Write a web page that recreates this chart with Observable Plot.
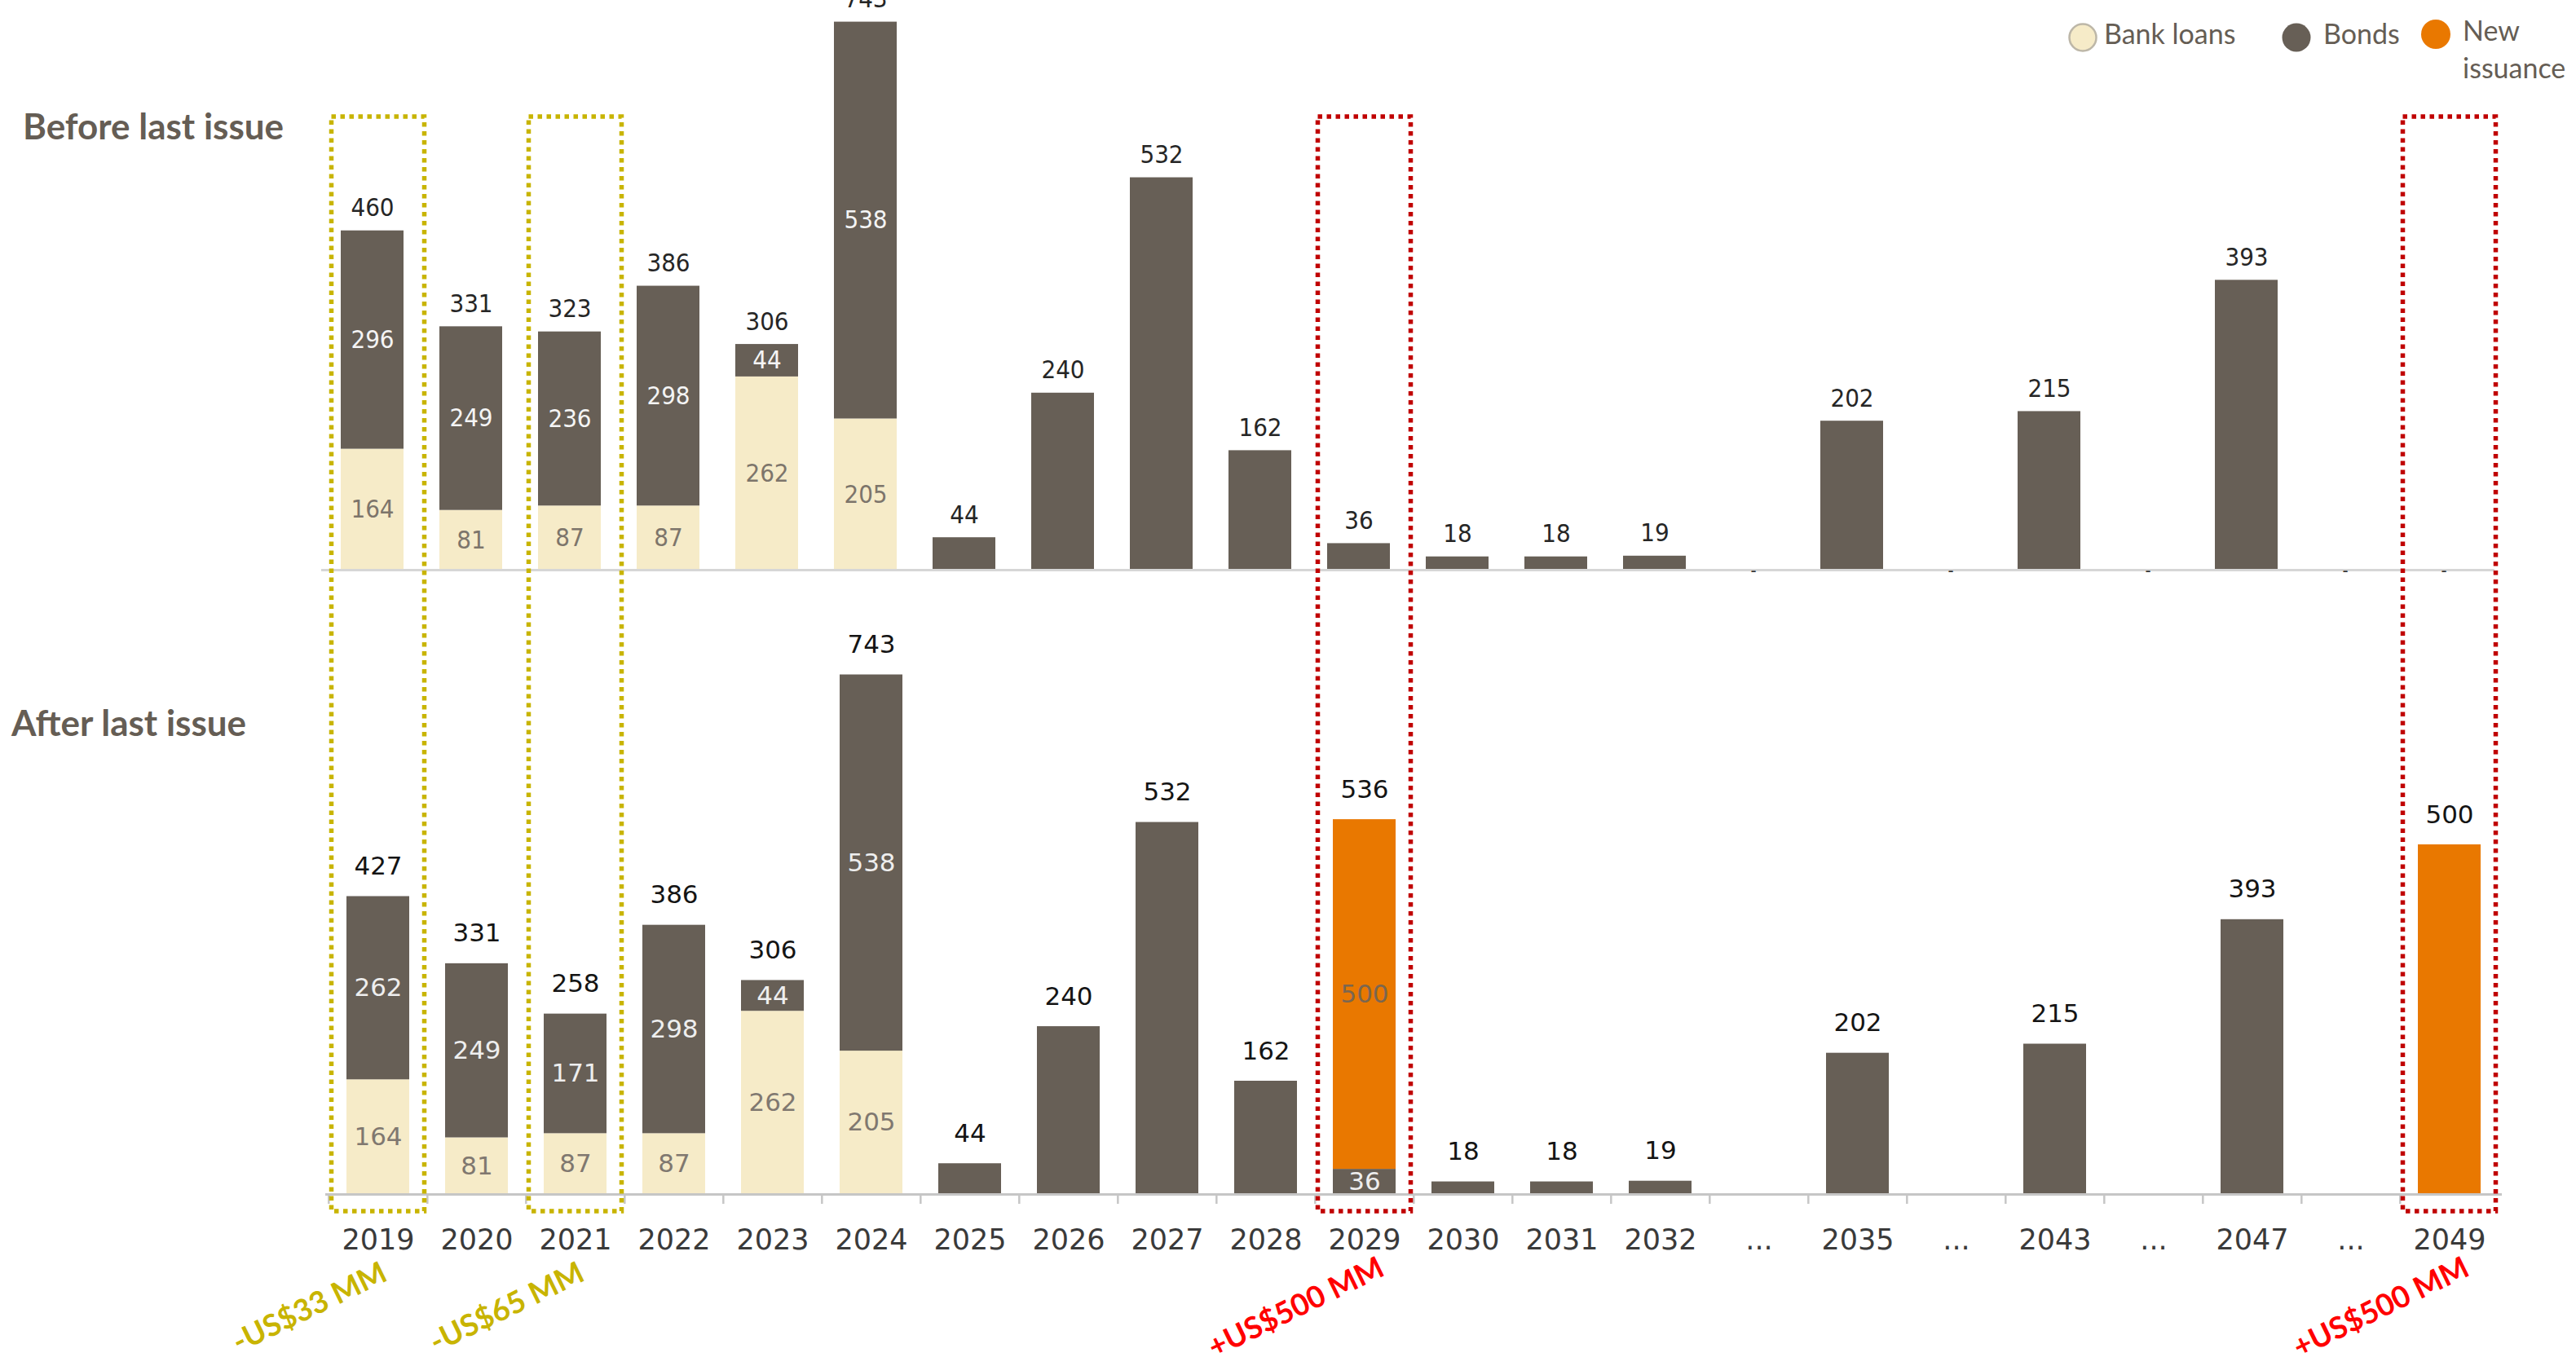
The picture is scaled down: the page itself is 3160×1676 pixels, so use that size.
<!DOCTYPE html>
<html>
<head>
<meta charset="utf-8">
<script src="https://cdn.jsdelivr.net/npm/d3@7"></script>
<script src="https://cdn.jsdelivr.net/npm/@observablehq/plot@0.6"></script>
<style>
  html, body { margin: 0; padding: 0; background: #fff; }
  #wrap { position: relative; width: 3160px; height: 1676px; overflow: hidden; background: #fff; }
  #wrap > svg, #wrap > .layer { position: absolute; left: 0; top: 0; }
</style>
</head>
<body>
<div id="wrap"></div>
<script>
// ---------- data ----------
const categories = ["2019","2020","2021","2022","2023","2024","2025","2026","2027","2028","2029","2030","2031","2032","gap1","2035","gap2","2043","gap3","2047","gap4","2049"];
const tickLabels = ["2019","2020","2021","2022","2023","2024","2025","2026","2027","2028","2029","2030","2031","2032","...","2035","...","2043","...","2047","...","2049"];
const series = ["Bank loans", "Bonds", "New issuance"];
const seriesColors = ["#f6ebc8", "#675f56", "#e97800"];

const bankBefore  = [164, 81, 87, 87, 262, 205, 0, 0, 0, 0, 0, 0, 0, 0, 0, 0, 0, 0, 0, 0, 0, 0];
const bondsBefore = [296, 249, 236, 298, 44, 538, 44, 240, 532, 162, 36, 18, 18, 19, 0, 202, 0, 215, 0, 393, 0, 0];
const newBefore   = [0, 0, 0, 0, 0, 0, 0, 0, 0, 0, 0, 0, 0, 0, 0, 0, 0, 0, 0, 0, 0, 0];
const totalBefore = [460, 331, 323, 386, 306, 743, 44, 240, 532, 162, 36, 18, 18, 19, 0, 202, 0, 215, 0, 393, 0, 0];

const bankAfter  = [164, 81, 87, 87, 262, 205, 0, 0, 0, 0, 0, 0, 0, 0, 0, 0, 0, 0, 0, 0, 0, 0];
const bondsAfter = [262, 249, 171, 298, 44, 538, 44, 240, 532, 162, 36, 18, 18, 19, 0, 202, 0, 215, 0, 393, 0, 0];
const newAfter   = [0, 0, 0, 0, 0, 0, 0, 0, 0, 0, 500, 0, 0, 0, 0, 0, 0, 0, 0, 0, 0, 500];
const totalAfter = [427, 331, 258, 386, 306, 743, 44, 240, 532, 162, 536, 18, 18, 19, 0, 202, 0, 215, 0, 393, 0, 500];

const highlightCats   = ["2019", "2021", "2029", "2049"];
const highlightChange = [-33, -65, 500, 500];

const panelTitles = ["Before last issue", "After last issue"];

// ---------- helpers ----------
function stackRows(bank, bonds, nw, total) {
  const segs = [], tops = [];
  categories.forEach((c, i) => {
    const vals = [bank[i], bonds[i], nw[i]];
    const n = vals.filter(v => v > 0).length;
    let base = 0;
    vals.forEach((v, k) => {
      segs.push({cat: c, k, series: series[k], value: v, y1: base, y2: base + v, mid: base + v / 2, multi: n > 1});
      base += v;
    });
    tops.push({cat: c, top: base, total: total[i]});
  });
  return {segs, tops};
}

const W = 3160, H = 1676;
const wrap = document.getElementById("wrap");

// ---------- top panel ----------
const before = stackRows(bankBefore, bondsBefore, newBefore, totalBefore);
const topFont = "'DejaVu Sans Condensed', 'Liberation Sans Narrow', 'DejaVu Sans', sans-serif";
const innerTop = ["#7d756b", "#f4f4f4", "#7a6650"];

const topMarks = [
  Plot.barY(before.segs.filter(d => d.value > 0), {x: "cat", y1: "y1", y2: "y2", fill: "series"}),
  Plot.ruleY([0], {stroke: "#d6d6d6", strokeWidth: 3})
];
[0, 1, 2].forEach(k => {
  topMarks.push(Plot.text(before.segs.filter(d => d.k === k && d.multi && d.value > 0), {
    x: "cat", y: "mid", text: d => String(d.value), fill: innerTop[k], fontSize: 31, fontFamily: topFont
  }));
});
topMarks.push(Plot.text(before.tops.filter(d => d.total > 0), {
  x: "cat", y: "top", text: d => String(d.total), lineAnchor: "bottom", dy: -18,
  fill: "#262626", fontSize: 31, fontFamily: topFont
}));
topMarks.push(Plot.text(before.tops.filter(d => d.total === 0), {
  x: "cat", y: 0, text: () => "-", fill: "#333", fontSize: 22, fontFamily: topFont
}));

const topPlot = Plot.plot({
  width: W, height: 740,
  marginLeft: 394, marginRight: 100, marginTop: 0, marginBottom: 41,
  x: {type: "band", domain: categories, paddingInner: 0.365, paddingOuter: 0.1825, axis: null},
  y: {domain: [0, 743], range: [699, 699 - 743 * 0.905], axis: null},
  color: {domain: series, range: seriesColors},
  style: {background: "white", maxWidth: "none", overflow: "visible", fontFamily: topFont, fontStretch: "condensed"},
  marks: topMarks
});
wrap.appendChild(topPlot);

// ---------- bottom panel ----------
const after = stackRows(bankAfter, bondsAfter, newAfter, totalAfter);
const botFont = "'DejaVu Sans', Verdana, sans-serif";
const innerBot = ["#807870", "#eeeeee", "#7a6650"];
const mLeft = 399, mRight = 91;
const step = (W - mLeft - mRight) / categories.length;

const highlights = highlightCats.map((c, i) => ({cat: c, change: highlightChange[i]}));
const fmtChange = v => (v < 0 ? "-US$" : "+US$") + Math.abs(v) + " MM";
const groups = [
  {filter: d => d.change < 0, color: "#c8b400", text: "#c8b400"},
  {filter: d => d.change > 0, color: "#c00000", text: "#ff0000"}
];

const botMarks = [
  Plot.barY(after.segs.filter(d => d.value > 0), {x: "cat", y1: "y1", y2: "y2", fill: "series"}),
  Plot.ruleY([0], {stroke: "#c6c6c6", strokeWidth: 3}),
  Plot.ruleX(categories, {x: d => d, y1: 0, y2: 0, dx: -step / 2, insetBottom: -12, stroke: "#c6c6c6", strokeWidth: 2.5})
];
[0, 1, 2].forEach(k => {
  botMarks.push(Plot.text(after.segs.filter(d => d.k === k && d.multi && d.value > 0), {
    x: "cat", y: "mid", text: d => String(d.value), fill: innerBot[k], fontSize: 31, fontFamily: botFont
  }));
});
botMarks.push(Plot.text(after.tops.filter(d => d.total > 0), {
  x: "cat", y: "top", text: d => String(d.total), lineAnchor: "bottom", dy: -27,
  fill: "#141414", fontSize: 31, fontFamily: botFont
}));
groups.forEach(g => {
  botMarks.push(Plot.cell(highlights.filter(g.filter), {
    x: "cat", fill: "none", stroke: g.color, strokeWidth: 5.5, strokeDasharray: "5.5,5.5",
    insetLeft: -18.5, insetRight: -18.5, insetBottom: -21
  }));
  botMarks.push(Plot.text(highlights.filter(g.filter), {
    x: "cat", y: 0, dx: -84, dy: 139, rotate: -26, text: d => fmtChange(d.change),
    fill: g.text, fontSize: 37, fontWeight: "bold", fontFamily: "Lato, 'Open Sans', sans-serif"
  }));
});

const botPlot = Plot.plot({
  width: W, height: H,
  marginLeft: mLeft, marginRight: mRight, marginTop: 143, marginBottom: H - 1465,
  x: {type: "band", domain: categories, paddingInner: 0.365, paddingOuter: 0.1825,
      tickSize: 0, tickPadding: 43, label: null,
      tickFormat: d => tickLabels[categories.indexOf(d)]},
  y: {domain: [0, 743], range: [1465, 1465 - 743 * 0.858], axis: null},
  color: {domain: series, range: seriesColors},
  style: {background: "transparent", maxWidth: "none", overflow: "visible", fontFamily: botFont, fontSize: "35px", color: "#3a3a3a"},
  marks: botMarks
});
wrap.appendChild(botPlot);

// ---------- titles and legend ----------
const ns = "http://www.w3.org/2000/svg";
const layer = document.createElementNS(ns, "svg");
layer.setAttribute("class", "layer");
layer.setAttribute("width", W);
layer.setAttribute("height", H);
layer.style.pointerEvents = "none";
function addText(str, x, y, attrs) {
  const t = document.createElementNS(ns, "text");
  t.setAttribute("x", x); t.setAttribute("y", y);
  for (const k in attrs) t.setAttribute(k, attrs[k]);
  t.textContent = str;
  layer.appendChild(t);
}
function addCircle(cx, cy, r, attrs) {
  const c = document.createElementNS(ns, "circle");
  c.setAttribute("cx", cx); c.setAttribute("cy", cy); c.setAttribute("r", r);
  for (const k in attrs) c.setAttribute(k, attrs[k]);
  layer.appendChild(c);
}
const titleStyle = {"font-family": "Lato, 'Open Sans', sans-serif", "font-weight": "bold", "font-size": 44, fill: "#655d54"};
addText(panelTitles[0], 28, 171, titleStyle);
addText(panelTitles[1], 14, 903, titleStyle);

const legStyle = {"font-family": "Lato, 'Open Sans', sans-serif", "font-size": 34, fill: "#655d54"};
addCircle(2555, 46, 16.5, {fill: seriesColors[0], stroke: "#bdb7a8", "stroke-width": 2.5});
addText(series[0], 2581, 54, legStyle);
addCircle(2817, 46, 17.5, {fill: seriesColors[1]});
addText(series[1], 2850, 54, legStyle);
addCircle(2988, 42, 18, {fill: seriesColors[2]});
const nw = series[2].split(" ");
addText(nw[0], 3021, 50, legStyle);
addText(nw[1], 3021, 96, legStyle);
wrap.appendChild(layer);
</script>
</body>
</html>
